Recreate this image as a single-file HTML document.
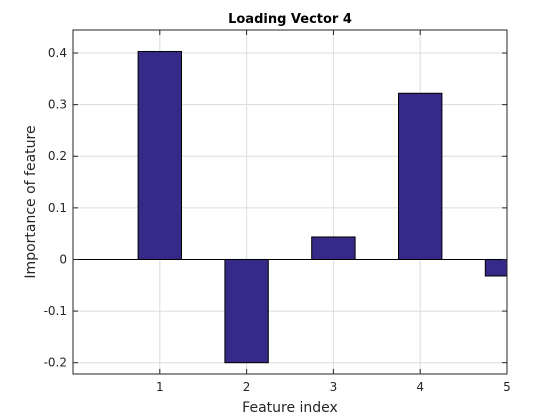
<!DOCTYPE html>
<html><head><meta charset="utf-8"><style>
body{margin:0;background:#fff;}
svg{display:block;font-family:"DejaVu Sans","Liberation Sans",sans-serif;}
</style></head><body>
<svg id="chart" width="560" height="420" viewBox="0 0 560 420" xmlns="http://www.w3.org/2000/svg">
<rect width="560" height="420" fill="#fff"/>
<g id="grid"></g>
<g id="bars"></g>
<g id="axes"></g>
<text x="290" y="23" text-anchor="middle" font-size="13" font-weight="bold" fill="#000">Loading Vector 4</text>
<text x="290" y="412" text-anchor="middle" font-size="14" fill="#262626">Feature index</text>
<text transform="translate(35,202) rotate(-90)" text-anchor="middle" font-size="14" fill="#262626">Importance of feature</text>
</svg>
<script>
const categories=[1,2,3,4,5];
const values=[0.403,-0.200,0.0436,0.322,-0.032];
const xTicks=[1,2,3,4,5];
const yTicks=[-0.2,-0.1,0,0.1,0.2,0.3,0.4];
const yTickLabels=["-0.2","-0.1","0","0.1","0.2","0.3","0.4"];

const L=73,R=507,T=30,B=374;
const xMin=0,xMax=5,yMin=-0.2219,yMax=0.4446;
const xs=v=>L+(v-xMin)/(xMax-xMin)*(R-L);
const ys=v=>B-(v-yMin)/(yMax-yMin)*(B-T);
const NS="http://www.w3.org/2000/svg";
function mk(tag,attrs,parent){const e=document.createElementNS(NS,tag);for(const k in attrs)e.setAttribute(k,attrs[k]);parent.appendChild(e);return e;}
const grid=document.getElementById('grid'),bars=document.getElementById('bars'),axes=document.getElementById('axes');
xTicks.forEach(t=>{const l=mk('line',{x1:xs(t),x2:xs(t),y1:T,y2:B,stroke:'#dcdcdc','stroke-width':1},grid);

});
yTicks.forEach(t=>{const l=mk('line',{x1:L,x2:R,y1:ys(t),y2:ys(t),stroke:'#dcdcdc','stroke-width':1},grid);

});
const bw=0.5;
categories.forEach((c,i)=>{
 let x0=xs(c-bw/2),x1=Math.min(xs(c+bw/2),R);
 const y0=ys(Math.max(values[i],0)),y1=ys(Math.min(values[i],0));
 const r=mk('rect',{x:x0,y:y0,width:x1-x0,height:y1-y0,fill:'#352a87',stroke:'#000','stroke-width':1},bars);
 
 
});
const zl=mk('line',{x1:L,x2:R,y1:ys(0),y2:ys(0),stroke:'#000','stroke-width':1},axes);


const box=mk('rect',{x:L,y:T,width:R-L,height:B-T,fill:'none',stroke:'#262626','stroke-width':1},axes);


xTicks.forEach(t=>{
 mk('line',{x1:xs(t),x2:xs(t),y1:B,y2:B-5,stroke:'#262626'},axes);
 mk('line',{x1:xs(t),x2:xs(t),y1:T,y2:T+5,stroke:'#262626'},axes);
 const tx=mk('text',{x:xs(t),y:B+17,'text-anchor':'middle','font-size':12,fill:'#262626'},axes);
 tx.textContent=t;
 
 
});
yTicks.forEach((t,i)=>{
 mk('line',{x1:L,x2:L+5,y1:ys(t),y2:ys(t),stroke:'#262626'},axes);
 mk('line',{x1:R,x2:R-5,y1:ys(t),y2:ys(t),stroke:'#262626'},axes);
 const tx=mk('text',{x:L-6,y:ys(t)+4,'text-anchor':'end','font-size':12,fill:'#262626'},axes);
 tx.textContent=yTickLabels[i];
 
 
});
</script>
</body></html>
